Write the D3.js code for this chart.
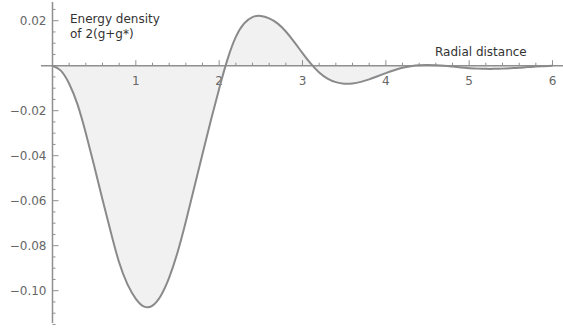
<!DOCTYPE html>
<html>
<head>
<meta charset="utf-8">
<script src="https://cdn.jsdelivr.net/npm/d3@7"></script>
<style>
  body { margin: 0; background: #fff; }
  text { font-family: "DejaVu Sans", sans-serif; }
</style>
</head>
<body>
<div id="chart"></div>
<script>
// radial distance samples and the energy density
const radial = [0, 0.1, 0.2, 0.3, 0.4, 0.5, 0.6, 0.7, 0.8, 0.9, 1.0, 1.1, 1.2, 1.3, 1.4, 1.5,
  1.6, 1.7, 1.8, 1.9, 2.0, 2.1, 2.2, 2.3, 2.4, 2.5, 2.6, 2.7, 2.8, 2.9, 3.0, 3.1, 3.2, 3.3,
  3.4, 3.5, 3.6, 3.7, 3.8, 3.9, 4.0, 4.1, 4.2, 4.3, 4.4, 4.5, 4.6, 4.7, 4.8, 4.9, 5.0, 5.1,
  5.2, 5.3, 5.4, 5.5, 5.6, 5.7, 5.8, 5.9, 6.0];
const energy = [0, -0.0022, -0.008, -0.0172, -0.03, -0.0445, -0.0595, -0.074, -0.0875, -0.0972,
  -0.1036, -0.1071, -0.1066, -0.1022, -0.0942, -0.083, -0.0692, -0.0542, -0.0392, -0.0244,
  -0.0102, 0.0028, 0.0128, 0.0188, 0.0216, 0.0221, 0.021, 0.0188, 0.0152, 0.0106, 0.0056,
  0.0009, -0.003, -0.0057, -0.0073, -0.008, -0.0079, -0.0072, -0.0061, -0.0047, -0.0033,
  -0.002, -0.0009, -0.0002, 0.0002, 0.0003, 0.0002, 0, -0.0004, -0.0008, -0.0011, -0.0013,
  -0.0014, -0.0014, -0.0013, -0.0011, -0.0009, -0.0006, -0.0004, -0.0002, 0];

const xMajor = [1, 2, 3, 4, 5, 6];
const yMajor = [0.02, -0.02, -0.04, -0.06, -0.08, -0.10];
const yLabel = ["Energy density", "of 2(g+g*)"];
const xLabel = "Radial distance";

const data = radial.map((r, i) => ({ r: r, e: energy[i] }));

const width = 563, height = 328;
const svg = d3.select("#chart").append("svg")
  .attr("width", width)
  .attr("height", height);

const x = d3.scaleLinear().domain([0, 6]).range([52.5, 552.5]);
const y = d3.scaleLinear().domain([0, -0.1]).range([65.7, 290.7]);

const axisColor = "#8f8f8f";
const labelColor = "#666";

// filled area between curve and zero
svg.append("path")
  .datum(data)
  .attr("fill", "#f1f1f1")
  .attr("d", d3.area()
    .x(d => x(d.r))
    .y0(y(0))
    .y1(d => y(d.e))
    .curve(d3.curveNatural));

// x axis line + ticks
svg.append("line")
  .attr("x1", x(-0.138)).attr("x2", width)
  .attr("y1", y(0)).attr("y2", y(0))
  .attr("stroke", axisColor).attr("stroke-width", 1.5);

const xMinor = d3.range(0.2, 6.01, 0.2).filter(v => Math.abs(v - Math.round(v)) > 0.01);
svg.selectAll(".xminor").data(xMinor).enter().append("line")
  .attr("x1", d => x(d)).attr("x2", d => x(d))
  .attr("y1", y(0)).attr("y2", y(0) - 3)
  .attr("stroke", axisColor).attr("stroke-width", 1);
svg.selectAll(".xmajor").data(xMajor).enter().append("line")
  .attr("x1", d => x(d)).attr("x2", d => x(d))
  .attr("y1", y(0)).attr("y2", y(0) - 5.5)
  .attr("stroke", axisColor).attr("stroke-width", 1);
svg.selectAll(".xlab").data(xMajor).enter().append("text")
  .attr("x", d => x(d)).attr("y", y(0) + 19)
  .attr("text-anchor", "middle")
  .attr("font-size", 12)
  .attr("fill", labelColor)
  .text(d => d);

// y axis line + ticks
svg.append("line")
  .attr("x1", x(0)).attr("x2", x(0))
  .attr("y1", 2).attr("y2", 323)
  .attr("stroke", axisColor).attr("stroke-width", 1.5);

const yMinor = d3.range(0.025, -0.1151, -0.005).filter(v => Math.abs(v / 0.02 - Math.round(v / 0.02)) > 0.01);
svg.selectAll(".yminor").data(yMinor).enter().append("line")
  .attr("x1", x(0)).attr("x2", x(0) + 3)
  .attr("y1", d => y(d)).attr("y2", d => y(d))
  .attr("stroke", axisColor).attr("stroke-width", 1);
svg.selectAll(".ymajor").data(yMajor).enter().append("line")
  .attr("x1", x(0)).attr("x2", x(0) + 6)
  .attr("y1", d => y(d)).attr("y2", d => y(d))
  .attr("stroke", axisColor).attr("stroke-width", 1);
svg.selectAll(".ylab").data(yMajor).enter().append("text")
  .attr("x", x(0) - 6).attr("y", d => y(d) + 4.5)
  .attr("text-anchor", "end")
  .attr("font-size", 12)
  .attr("fill", labelColor)
  .text(d => d3.format(".2f")(d).replace("-", "\u2212"));

// curve
svg.append("path")
  .datum(data)
  .attr("fill", "none")
  .attr("stroke", "#8a8a8a")
  .attr("stroke-width", 2)
  .attr("d", d3.line()
    .x(d => x(d.r))
    .y(d => y(d.e))
    .curve(d3.curveNatural));

// axis labels
svg.selectAll(".ytitle").data(yLabel).enter().append("text")
  .attr("x", 70).attr("y", (d, i) => 23 + i * 15)
  .attr("font-size", 12)
  .attr("fill", "#333")
  .text(d => d);

svg.append("text")
  .attr("x", 435).attr("y", 56)
  .attr("font-size", 12)
  .attr("fill", "#333")
  .text(xLabel);
</script>
</body>
</html>
